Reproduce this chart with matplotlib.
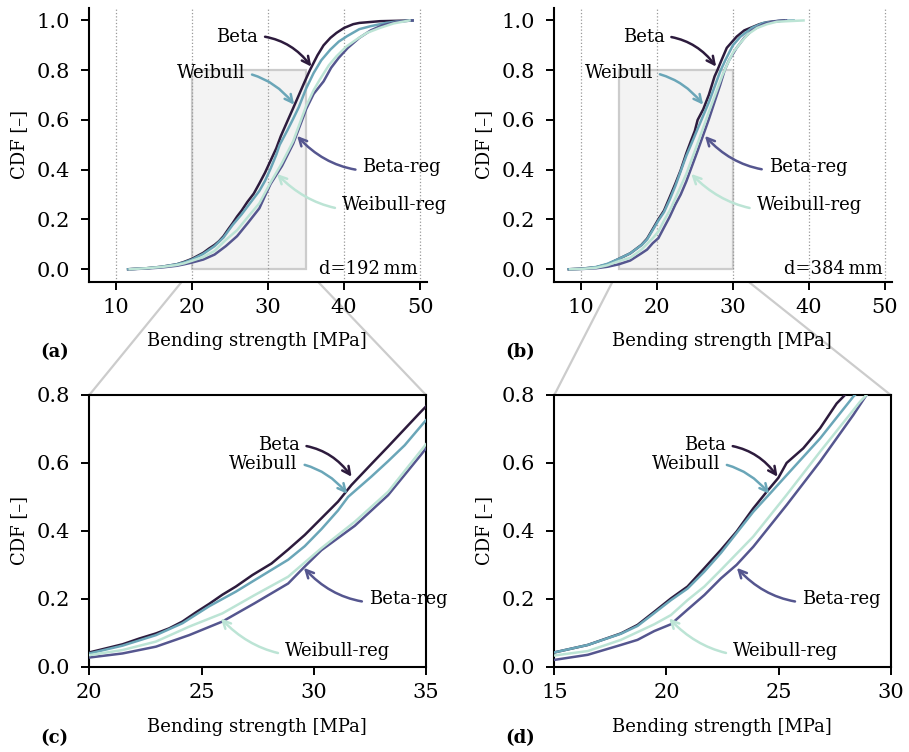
import matplotlib
matplotlib.use("Agg")
import matplotlib.pyplot as plt
from matplotlib.patches import Rectangle, ConnectionPatch

plt.rcParams["font.family"] = ["DejaVu Serif"]
plt.rcParams["font.size"] = 13
plt.rcParams["mathtext.fontset"] = "dejavuserif"

# ---- data: empirical CDFs of bending strength (MPa) ----
# d = 192 mm
beta_192_x = [11.6, 14.0, 16.0, 18.0, 19.0, 20.0, 20.74, 21.48, 22.23, 22.97, 23.56, 24.15, 24.75,
              25.34, 25.93, 26.53, 27.27, 28.12, 28.86, 29.6, 30.34, 31.08, 31.68, 32.57, 33.31,
              34.05, 34.79, 35.5, 36.5, 37.3, 38.2, 39.0, 40.0, 41.2, 42.0, 44.7, 49.0]
beta_192_y = [0.0, 0.004, 0.01, 0.02, 0.03, 0.042, 0.054, 0.066, 0.083, 0.098, 0.113, 0.133, 0.16,
              0.185, 0.212, 0.236, 0.27, 0.304, 0.345, 0.388, 0.437, 0.486, 0.535, 0.597, 0.648,
              0.70, 0.752, 0.80, 0.86, 0.90, 0.93, 0.95, 0.97, 0.985, 0.99, 0.997, 1.0]
weib_192_x = [11.6, 14.0, 16.0, 18.0, 19.0, 20.0, 21.48, 22.97, 24.15, 25.34, 26.53, 27.37, 28.86,
              29.6, 30.34, 31.08, 31.53, 32.57, 33.31, 34.05, 35.0, 36.0, 37.0, 38.2, 39.3, 40.4,
              42.0, 43.5, 45.5, 47.0, 49.0]
weib_192_y = [0.0, 0.004, 0.01, 0.02, 0.028, 0.039, 0.062, 0.093, 0.128, 0.178, 0.221, 0.255, 0.315,
              0.355, 0.405, 0.46, 0.50, 0.56, 0.605, 0.652, 0.726, 0.789, 0.84, 0.883, 0.915, 0.937,
              0.965, 0.977, 0.99, 0.996, 1.0]
betareg_192_x = [11.8, 14.0, 16.0, 18.0, 19.0, 20.0, 21.48, 22.97, 24.45, 25.93, 27.37, 28.86, 29.6,
                 30.34, 31.83, 33.31, 34.79, 35.0, 36.0, 37.3, 38.3, 39.3, 40.5, 42.0, 43.5, 45.0,
                 47.0, 49.0]
betareg_192_y = [0.0, 0.003, 0.007, 0.014, 0.02, 0.027, 0.039, 0.059, 0.093, 0.133, 0.187, 0.245,
                 0.295, 0.343, 0.415, 0.505, 0.625, 0.643, 0.705, 0.755, 0.81, 0.85, 0.89, 0.93,
                 0.96, 0.98, 0.995, 1.0]
weibreg_192_x = [11.8, 14.0, 16.0, 18.0, 19.0, 20.0, 21.48, 22.97, 24.45, 25.93, 27.37, 28.86,
                 30.34, 31.83, 33.31, 35.0, 36.0, 36.8, 38.0, 39.0, 40.3, 41.6, 43.0, 44.7, 46.5,
                 48.6]
weibreg_192_y = [0.0, 0.004, 0.009, 0.017, 0.024, 0.034, 0.049, 0.074, 0.118, 0.157, 0.211, 0.265,
                 0.349, 0.427, 0.515, 0.655, 0.72, 0.762, 0.82, 0.856, 0.895, 0.923, 0.95, 0.97,
                 0.988, 1.0]

# d = 384 mm
beta_384_x = [8.4, 10.0, 12.0, 13.5, 15.0, 16.49, 17.97, 18.71, 19.46, 20.2, 20.94, 21.69, 22.43,
              23.13, 23.87, 24.47, 24.99, 25.36, 26.1, 26.85, 27.59, 27.96, 28.5, 29.2, 30.5, 31.5,
              32.3, 33.5, 34.5, 36.7]
beta_384_y = [0.0, 0.002, 0.008, 0.02, 0.042, 0.064, 0.098, 0.123, 0.162, 0.201, 0.236, 0.29, 0.344,
              0.398, 0.466, 0.515, 0.556, 0.60, 0.643, 0.702, 0.775, 0.8, 0.84, 0.89, 0.935, 0.96,
              0.97, 0.985, 0.993, 1.0]
weib_384_x = [8.4, 10.0, 12.0, 13.5, 15.0, 16.49, 17.97, 18.71, 19.46, 20.2, 20.94, 21.69, 22.43,
              23.87, 24.62, 25.36, 26.85, 28.33, 29.0, 30.0, 31.0, 32.5, 34.0, 36.0, 38.0]
weib_384_y = [0.0, 0.002, 0.009, 0.022, 0.042, 0.064, 0.097, 0.12, 0.158, 0.196, 0.23, 0.28, 0.335,
              0.456, 0.51, 0.564, 0.672, 0.795, 0.84, 0.90, 0.935, 0.97, 0.99, 0.998, 1.0]
betareg_384_x = [8.6, 10.0, 12.0, 13.5, 15.0, 16.49, 17.97, 18.71, 19.46, 20.2, 20.94, 21.69, 22.43,
                 23.13, 23.87, 25.36, 26.85, 28.33, 28.92, 29.5, 30.5, 31.5, 32.5, 34.0, 35.5, 37.0]
betareg_384_y = [0.0, 0.001, 0.004, 0.01, 0.02, 0.035, 0.064, 0.079, 0.105, 0.125, 0.168, 0.211,
                 0.26, 0.30, 0.353, 0.476, 0.604, 0.741, 0.8, 0.84, 0.89, 0.93, 0.96, 0.985, 0.997,
                 1.0]
weibreg_384_x = [8.6, 10.0, 12.0, 13.5, 15.0, 16.49, 17.97, 19.46, 20.2, 20.94, 21.69, 22.43, 23.87,
                 25.36, 26.85, 28.63, 29.2, 30.0, 31.0, 32.0, 33.2, 34.5, 35.8, 39.3]
weibreg_384_y = [0.0, 0.001, 0.006, 0.016, 0.033, 0.046, 0.079, 0.125, 0.152, 0.196, 0.236, 0.285,
                 0.383, 0.506, 0.633, 0.78, 0.82, 0.87, 0.91, 0.945, 0.97, 0.985, 0.995, 1.0]

labels = ["Beta", "Weibull", "Beta-reg", "Weibull-reg"]
colors = ["#2d1b3d", "#6aa6b8", "#55568f", "#bce4d5"]

curves_192 = [(beta_192_x, beta_192_y), (weib_192_x, weib_192_y),
              (betareg_192_x, betareg_192_y), (weibreg_192_x, weibreg_192_y)]
curves_384 = [(beta_384_x, beta_384_y), (weib_384_x, weib_384_y),
              (betareg_384_x, betareg_384_y), (weibreg_384_x, weibreg_384_y)]

# annotation placement: (label text anchor, arrow tip, horizontal alignment)
annot_a = [((28.7, 0.935), (35.8, 0.81), "right"),
           ((27.0, 0.79), (33.55, 0.657), "right"),
           ((42.4, 0.41), (33.7, 0.54), "left"),
           ((39.7, 0.258), (31.05, 0.387), "left")]
annot_b = [((21.0, 0.935), (27.9, 0.81), "right"),
           ((19.5, 0.79), (26.2, 0.657), "right"),
           ((34.7, 0.41), (26.2, 0.54), "left"),
           ((33.1, 0.258), (24.4, 0.387), "left")]
annot_c = [((29.37, 0.652), (31.72, 0.556), "right"),
           ((29.29, 0.597), (31.53, 0.506), "right"),
           ((32.45, 0.199), (29.52, 0.294), "left"),
           ((28.71, 0.046), (25.82, 0.145), "left")]
annot_d = [((22.65, 0.652), (24.99, 0.556), "right"),
           ((22.39, 0.597), (24.62, 0.506), "right"),
           ((26.04, 0.199), (23.1, 0.294), "left"),
           ((22.96, 0.046), (20.08, 0.145), "left")]

zoom_a = (20, 35)
zoom_b = (15, 30)
zoom_top = 0.8

W, H = 909, 752
fig = plt.figure(figsize=(W / 100, H / 100), dpi=100)


def px_axes(left, top, right, bottom):
    return fig.add_axes([left / W, 1 - bottom / H, (right - left) / W, (bottom - top) / H])


ax_a = px_axes(89.3, 8, 427, 281.7)
ax_b = px_axes(554.3, 8, 891.7, 281.7)
ax_c = px_axes(89.3, 395, 426, 666.7)
ax_d = px_axes(554.3, 395, 890.7, 666.7)


def draw_curves(ax, curves):
    for (x, y), c in zip(curves, colors):
        ax.plot(x, y, color=c, lw=1.8, solid_joinstyle="round", zorder=3)


def annotate(ax, spec):
    for (txt_xy, tip, ha), lab, c in zip(spec, labels, colors):
        ax.annotate(lab, xy=tip, xytext=txt_xy, ha=ha, va="center", zorder=5,
                    arrowprops=dict(arrowstyle="->", color=c, lw=1.8, mutation_scale=14,
                                    connectionstyle="arc3,rad=-0.3", shrinkA=3, shrinkB=1))


def style(ax):
    ax.tick_params(direction="out", length=6, width=1.4, labelsize=15)
    ax.tick_params(axis="y", pad=8)
    ax.tick_params(axis="x", pad=6)
    for s in ax.spines.values():
        s.set_linewidth(1.5)
    ax.set_ylabel("CDF [–]")
    ax.set_xlabel("Bending strength [MPa]")


for ax, curves, spec, zr, dlabel in [(ax_a, curves_192, annot_a, zoom_a, "d=192\u2009mm"),
                                     (ax_b, curves_384, annot_b, zoom_b, "d=384\u2009mm")]:
    draw_curves(ax, curves)
    annotate(ax, spec)
    ax.add_patch(Rectangle((zr[0], 0), zr[1] - zr[0], zoom_top, facecolor="#f3f3f3",
                           edgecolor="#cccccc", lw=1.6, zorder=0.2))
    ax.set_xlim(6.5, 50.9)
    ax.set_ylim(-0.05, 1.05)
    ax.set_xticks([10, 20, 30, 40, 50])
    ax.set_yticks([0.0, 0.2, 0.4, 0.6, 0.8, 1.0])
    ax.set_axisbelow(True)
    ax.grid(axis="x", linestyle=":", color="#999999", lw=0.9)
    ax.spines["top"].set_visible(False)
    ax.spines["right"].set_visible(False)
    ax.text(49.7, 0.0, dlabel, ha="right", va="center", zorder=6)
    style(ax)

for ax, curves, spec, zr in [(ax_c, curves_192, annot_c, zoom_a),
                             (ax_d, curves_384, annot_d, zoom_b)]:
    draw_curves(ax, curves)
    annotate(ax, spec)
    ax.set_xlim(*zr)
    ax.set_ylim(0, zoom_top)
    ax.set_xticks(list(range(zr[0], zr[1] + 1, 5)))
    ax.set_yticks([0.0, 0.2, 0.4, 0.6, 0.8])
    style(ax)

for ax in (ax_a, ax_b):
    ax.yaxis.set_label_coords(-0.182, 0.5)
    ax.xaxis.set_label_coords(0.497, -0.184)
for ax in (ax_c, ax_d):
    ax.yaxis.set_label_coords(-0.182, 0.5)
    ax.xaxis.set_label_coords(0.497, -0.189)

# zoom connectors from the shaded region to the detail panels
for src, dst, zr in [(ax_a, ax_c, zoom_a), (ax_b, ax_d, zoom_b)]:
    for xv, xa in [(zr[0], 0), (zr[1], 1)]:
        con = ConnectionPatch(xyA=(xv, 0), coordsA=src.transData,
                              xyB=(xa, 1), coordsB=dst.transAxes,
                              color="#cccccc", lw=1.6, zorder=0)
        fig.add_artist(con)

for lab, x, y in [("(a)", 40, 352), ("(b)", 505, 352), ("(c)", 40, 738), ("(d)", 505, 738)]:
    fig.text(x / W, 1 - y / H, lab, fontweight="bold", ha="left", va="center")

fig.savefig("out.png", dpi=100)
